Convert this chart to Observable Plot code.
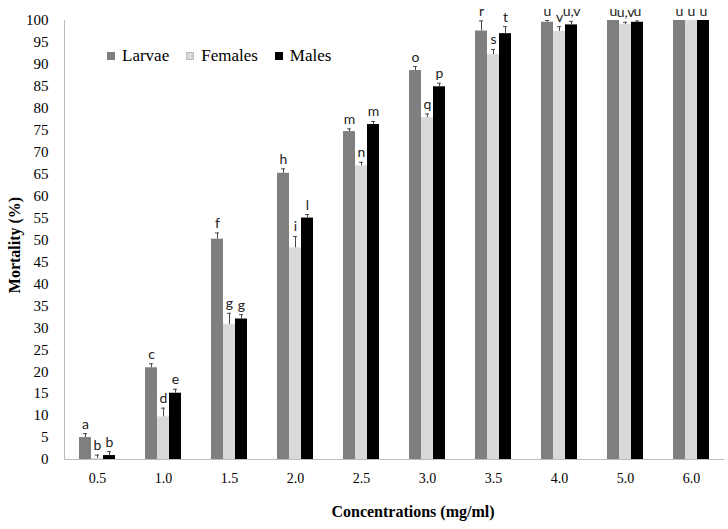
<!DOCTYPE html>
<html>
<head>
<meta charset="utf-8">
<script src="https://cdn.jsdelivr.net/npm/d3@7"></script>
<script src="https://cdn.jsdelivr.net/npm/@observablehq/plot@0.6"></script>
<style>
  body { margin: 0; background: #fff; }
  #wrap { position: relative; width: 728px; height: 529px; overflow: hidden; }
  #chart svg { display: block; }
  .serif { font-family: "Liberation Serif", "Times New Roman", Tinos, "DejaVu Serif", serif; }
  .legend { position: absolute; left: 107px; top: 46px; display: flex; align-items: center;
            font-size: 17px; color: #000; white-space: nowrap; }
  .legend .item { display: flex; align-items: center; margin-right: 17px; }
  .legend .sw { width: 8px; height: 8px; margin-right: 7px; box-sizing: border-box; }
  .ytitle { position: absolute; left: 15px; top: 245px; transform: translate(-50%, -50%) rotate(-90deg);
            font-weight: bold; font-size: 16px; white-space: nowrap; color: #000; }
  .xtitle { position: absolute; left: 413px; top: 512px; transform: translate(-50%, -50%);
            font-weight: bold; font-size: 16px; white-space: nowrap; color: #000; }
</style>
</head>
<body>
<div id="wrap">
  <div id="chart"></div>
  <div class="legend serif" id="legend"></div>
  <div class="ytitle serif">Mortality (%)</div>
  <div class="xtitle serif">Concentrations (mg/ml)</div>
</div>
<script>
const concentrations = ["0.5", "1.0", "1.5", "2.0", "2.5", "3.0", "3.5", "4.0", "5.0", "6.0"];
const seriesNames = ["Larvae", "Females", "Males"];
const seriesColors = ["#7f7f7f", "#d9d9d9", "#000000"];

const larvae  = [5.0, 20.9, 50.2, 65.2, 74.7, 88.6, 97.6, 99.6, 100, 100];
const females = [0.2, 9.7, 30.8, 48.2, 66.9, 77.9, 92.2, 97.5, 99.1, 100];
const males   = [0.9, 15.1, 32.0, 55.0, 76.3, 84.9, 97.0, 99.0, 99.6, 100];

const larvaeErr  = [0.9, 0.9, 1.4, 1.0, 0.6, 0.9, 2.3, 0.4, 0, 0];
const femalesErr = [0.8, 2.0, 2.5, 2.6, 0.8, 0.8, 1.2, 1.1, 0.5, 0];
const malesErr   = [0.9, 0.9, 1.0, 0.8, 0.7, 0.8, 1.6, 0.8, 0.3, 0];

const larvaeLetters  = ["a", "c", "f", "h", "m", "o", "r", "u", "u", "u"];
const femalesLetters = ["b", "d", "g", "i", "n", "q", "s", "v", "u,v", "u"];
const malesLetters   = ["b", "e", "g", "l", "m", "p", "t", "u,v", "u", "u"];

const yTicks = d3.range(0, 101, 5);

const values = [larvae, females, males];
const errs = [larvaeErr, femalesErr, malesErr];
const letters = [larvaeLetters, femalesLetters, malesLetters];

const data = seriesNames.flatMap((s, k) => concentrations.map((c, i) => ({
  conc: c, series: s, k, value: values[k][i], err: errs[k][i], top: values[k][i] + errs[k][i], letter: letters[k][i]
})));

const W = 728, H = 529;
const barW = 12, groupW = 36;
const errColor = "#4a4a4a";
const serifFont = "'Liberation Serif', 'Times New Roman', Tinos, 'DejaVu Serif', serif";

const marks = [];
seriesNames.forEach((s, k) => {
  const d = data.filter(r => r.k === k);
  const de = d.filter(r => r.err > 0);
  marks.push(Plot.barY(d, {x: "conc", y: "value", fill: seriesColors[k], insetLeft: barW * k, insetRight: groupW - barW * (k + 1)}));
  marks.push(Plot.ruleX(de, {x: "conc", y1: "value", y2: "top", stroke: errColor, strokeWidth: 1, dx: (k - 1) * barW}));
  marks.push(Plot.tickY(de, {x: "conc", y: "top", stroke: errColor, strokeWidth: 1, insetLeft: barW * k + 4, insetRight: groupW - barW * k - 8}));
  marks.push(Plot.text(d, {x: "conc", y: "top", text: "letter", dx: (k - 1) * barW, dy: -5, lineAnchor: "bottom",
    fontFamily: "Lato, 'Open Sans', sans-serif", fontSize: 14, fill: "#222"}));
});

const chart = Plot.plot({
  width: W,
  height: H,
  marginLeft: 64,
  marginRight: 4,
  marginTop: 20,
  marginBottom: 70,
  style: {fontFamily: serifFont, background: "#fff", color: "#000"},
  x: {domain: concentrations, paddingInner: 30 / 66, paddingOuter: 15 / 66, round: false, label: null},
  y: {domain: [0, 100], label: null},
  marks: [
    Plot.axisY({ticks: yTicks, tickSize: 0, tickPadding: 16, fontSize: 15, fontFamily: serifFont, label: null, tickFormat: d => String(d)}),
    Plot.axisX({tickSize: 0, tickPadding: 14, fontSize: 14, fontFamily: serifFont, label: null}),
    ...marks,
    Plot.ruleY([0], {stroke: "#bdbdbd", strokeWidth: 1}),
    Plot.ruleX([concentrations[0]], {x: d => d, y1: 0, y2: 100, dx: -(15 + groupW / 2), stroke: "#bdbdbd", strokeWidth: 1})
  ]
});
document.getElementById("chart").appendChild(chart);

const legend = document.getElementById("legend");
seriesNames.forEach((s, k) => {
  const item = document.createElement("div");
  item.className = "item";
  const sw = document.createElement("span");
  sw.className = "sw";
  sw.style.background = seriesColors[k];
  if (k === 1) sw.style.border = "1px solid #bbb";
  const t = document.createElement("span");
  t.textContent = s;
  item.appendChild(sw);
  item.appendChild(t);
  legend.appendChild(item);
});
</script>
</body>
</html>
